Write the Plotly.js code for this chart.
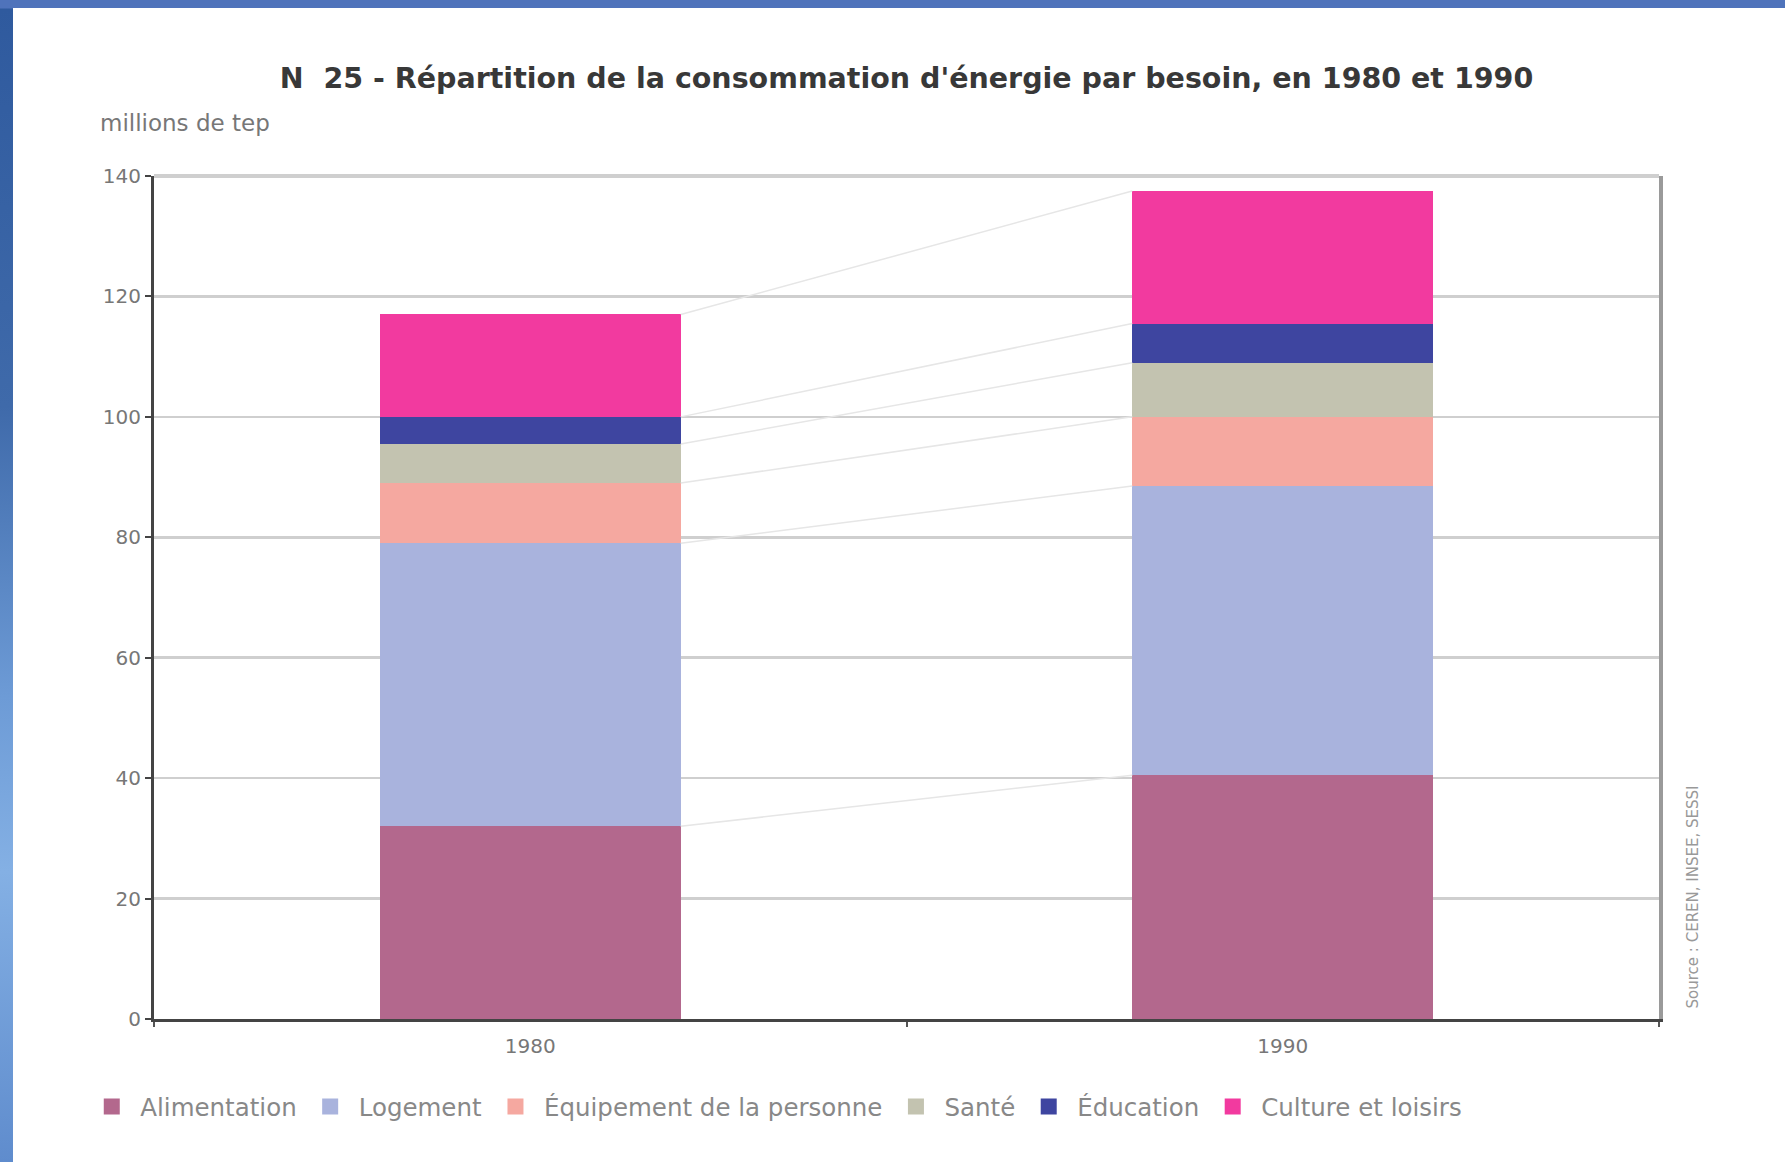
<!DOCTYPE html>
<html>
<head>
<meta charset="utf-8">
<script src="https://cdn.plot.ly/plotly-3.0.1.min.js"></script>
<style>
  html, body { margin:0; padding:0; width:1785px; height:1162px; overflow:hidden; }
  body { background: linear-gradient(180deg, #4f73bb 0px, #4f73bb 8px, #2f5a9e 9px, #3f6aaa 35%, #6d9bd6 60%, #84b0e4 75%, #5f8ccd 100%); }
  #chart { position:absolute; left:13px; top:8px; width:1772px; height:1154px; background:#fff; }
</style>
</head>
<body>
<div id="chart"></div>
<script>
// ---- data ----
const years = ['1980', '1990'];
const categories = ['Alimentation', 'Logement', 'Équipement de la personne', 'Santé', 'Éducation', 'Culture et loisirs'];
const alimentation = [32, 40.5];
const logement     = [47, 48];
const equipement   = [10, 11.5];
const sante        = [6.5, 9];
const education    = [4.5, 6.5];
const culture      = [17, 22];
const yTicks = [0, 20, 40, 60, 80, 100, 120, 140];

// ---- styles ----
const FONT = 'DejaVu Sans, Verdana, sans-serif';
const colors = ['#b3688d', '#a9b3dd', '#f5a8a0', '#c3c3b0', '#3e45a0', '#f23a9f'];
const series = [alimentation, logement, equipement, sante, education, culture];
const xPos = years.map((_, i) => i);
const barW = 0.4;

const traces = [];
// faint series lines between the stacked segments
let cum = years.map(() => 0);
series.forEach((s) => {
  cum = cum.map((c, i) => c + s[i]);
  traces.push({
    type: 'scatter', mode: 'lines',
    x: [xPos[0] + barW / 2, xPos[1] - barW / 2],
    y: [cum[0], cum[1]],
    line: { color: '#e6e6e6', width: 1.5 },
    showlegend: false, hoverinfo: 'skip'
  });
});
series.forEach((s, k) => {
  traces.push({
    type: 'bar', name: categories[k], x: xPos, y: s, width: barW,
    marker: { color: colors[k], line: { width: 0 } }, showlegend: false
  });
});
// legend entries with larger square swatches
categories.forEach((c, k) => {
  traces.push({
    type: 'scatter', mode: 'markers', name: c, x: [null], y: [null],
    marker: { symbol: 'square', size: 21, color: colors[k] },
    showlegend: true, hoverinfo: 'skip'
  });
});

const layout = {
  width: 1772, height: 1154,
  paper_bgcolor: '#ffffff', plot_bgcolor: '#ffffff',
  margin: { l: 141, r: 126, t: 168, b: 143 },
  barmode: 'stack',
  font: { family: FONT, color: '#666' },
  title: {
    text: 'N  25 - Répartition de la consommation d\'énergie par besoin, en 1980 et 1990',
    font: { size: 28.5, color: '#383838', family: FONT, weight: 'bold' },
    x: 0.5, xref: 'paper', xanchor: 'center', y: 1 - 70 / 1154, yanchor: 'middle'
  },
  xaxis: {
    range: [-0.5, 1.5], tickvals: xPos, ticktext: years,
    ticks: '', showgrid: false, zeroline: false,
    showline: true, linecolor: '#444', linewidth: 3, mirror: false,
    tickfont: { size: 20, color: '#777', family: FONT },
    ticklabelstandoff: 7,
    minor: { tick0: 0.5, dtick: 1, ticks: 'outside', ticklen: 5, tickcolor: '#555', tickwidth: 2, showgrid: false }
  },
  yaxis: {
    range: [0, 140], tickvals: yTicks, ticks: 'outside', ticklen: 6, tickwidth: 2, tickcolor: '#444',
    showline: true, linecolor: '#444', linewidth: 3,
    showgrid: true, gridcolor: '#cfcfcf', gridwidth: 2.5, zeroline: false,
    tickfont: { size: 20, color: '#777', family: FONT }
  },
  yaxis2: {
    overlaying: 'y', side: 'right', range: [0, 140], showticklabels: false, ticks: '',
    showline: true, linecolor: '#9a9a9a', linewidth: 4, showgrid: false, zeroline: false
  },
  legend: {
    orientation: 'h', x: -0.047, xanchor: 'left', y: 1 - (1106 - 8 - 168) / 842.5, yanchor: 'middle',
    font: { size: 24.5, color: '#888', family: FONT }, traceorder: 'normal', itemwidth: 47,
    bgcolor: 'rgba(0,0,0,0)'
  },
  annotations: [
    { text: 'millions de tep', xref: 'paper', yref: 'paper', x: -0.037, xanchor: 'left',
      y: 1 + (168 - 115) / 842.5, yanchor: 'middle', showarrow: false,
      font: { size: 23, color: '#777', family: FONT } },
    { text: 'Source : CEREN, INSEE, SESSI', xref: 'paper', yref: 'paper', x: 1 + (1680 - 1646) / 1505, xanchor: 'center',
      y: 1 - (897 - 8 - 168) / 842.5, yanchor: 'middle', textangle: -90, showarrow: false,
      font: { size: 15, color: '#999', family: FONT } }
  ],
  shapes: [
    { type: 'line', xref: 'paper', yref: 'paper', x0: 0, x1: 1, y0: 1, y1: 1,
      line: { color: '#cfcfcf', width: 4 } }
  ]
};
// dummy trace to activate the mirrored right axis
traces.push({ type: 'scatter', x: [null], y: [null], yaxis: 'y2', showlegend: false, hoverinfo: 'skip' });

Plotly.newPlot('chart', traces, layout, { displayModeBar: false, staticPlot: true });
</script>
</body>
</html>
